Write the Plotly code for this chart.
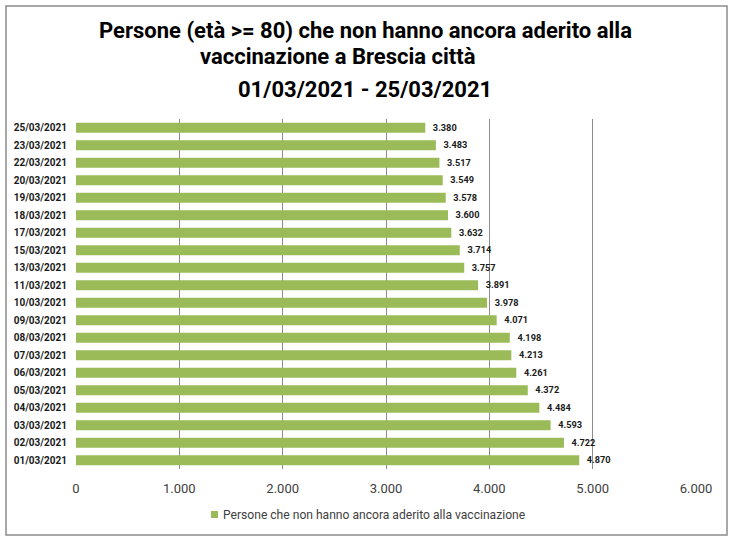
import plotly.graph_objects as go

dates = ["01/03/2021", "02/03/2021", "03/03/2021", "04/03/2021", "05/03/2021",
         "06/03/2021", "07/03/2021", "08/03/2021", "09/03/2021", "10/03/2021",
         "11/03/2021", "13/03/2021", "15/03/2021", "17/03/2021", "18/03/2021",
         "19/03/2021", "20/03/2021", "22/03/2021", "23/03/2021", "25/03/2021"]
values = [4870, 4722, 4593, 4484, 4372, 4261, 4213, 4198, 4071, 3978,
          3891, 3757, 3714, 3632, 3600, 3578, 3549, 3517, 3483, 3380]
series_name = "Persone che non hanno ancora aderito alla vaccinazione"
title_lines = ["Persone (età >= 80) che non hanno ancora aderito alla",
               "vaccinazione a Brescia città",
               "01/03/2021 - 25/03/2021"]
x_ticks = [0, 1000, 2000, 3000, 4000, 5000, 6000]

FONT = "Roboto, Arial"
GREEN = "#9BBB59"

fig = go.Figure()
fig.add_trace(go.Bar(
    y=dates, x=values, orientation="h", name=series_name,
    marker=dict(color=GREEN, line=dict(width=0)),
    width=0.58,
    texttemplate="  %{x:,}", textposition="outside", cliponaxis=False,
    textfont=dict(family=FONT, size=10, color="#1a1a1a", weight="bold"),
    showlegend=False,
))

L, R, T, B = 76, 36, 119, 73
W, H = 732, 542
pw, ph = W - L - R, H - T - B

def px(x):
    return (x - L) / pw

def py(y):
    return (H - B - y) / ph

fig.update_layout(
    width=W, height=H,
    margin=dict(l=L, r=R, t=T, b=B, pad=0),
    paper_bgcolor="white", plot_bgcolor="white",
    separators=",.",
    showlegend=False,
    xaxis=dict(range=[0, 6000], tickvals=x_ticks, tickformat=",",
               showgrid=True, gridcolor="#8c8c8c", gridwidth=1,
               zeroline=False, showline=False, ticks="",
               tickfont=dict(family=FONT, size=13, color="#404040"),
               ticklabelstandoff=10, fixedrange=True),
    yaxis=dict(type="category", categoryorder="array", categoryarray=dates,
               showgrid=False, zeroline=False, showline=False, ticks="",
               tickfont=dict(family=FONT, size=10, color="#1a1a1a", weight="bold"),
               ticklabelstandoff=8, range=[-0.5, len(dates) - 0.5]),
    shapes=[
        dict(type="rect", xref="paper", yref="paper",
             x0=px(6), x1=px(727), y0=py(535), y1=py(6),
             line=dict(color="#8c8c8c", width=1.5), fillcolor="rgba(0,0,0,0)", layer="below"),
        dict(type="rect", xref="paper", yref="paper",
             x0=px(211), x1=px(218), y0=py(518), y1=py(511),
             line=dict(width=0), fillcolor=GREEN),
    ],
)

# legend entry
fig.add_annotation(text=series_name, xref="paper", yref="paper", x=px(221), y=py(514.5),
                   xanchor="left", yanchor="middle", showarrow=False,
                   font=dict(family=FONT, size=12.1, color="#404040"))

title_pos = [(365, 30), (338, 56), (365, 89)]
for txt, (xx, yy) in zip(title_lines, title_pos):
    fig.add_annotation(text=txt, xref="paper", yref="paper", x=px(xx), y=py(yy),
                       xanchor="center", yanchor="middle", showarrow=False,
                       font=dict(family=FONT, size=22, color="#000000", weight="bold"))

fig.write_html("out.html")
